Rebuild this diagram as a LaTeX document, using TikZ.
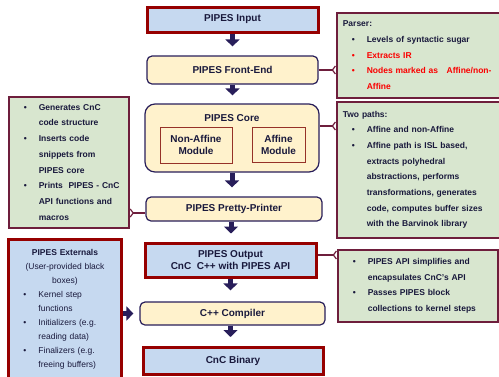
\documentclass[tikz,border=0pt]{standalone}
\usepackage{fontspec}
\setmainfont{Liberation Sans}
\usetikzlibrary{arrows.meta}

\definecolor{pipesblue}{RGB}{198,217,240}
\definecolor{pipescream}{RGB}{255,242,204}
\definecolor{pipesgreen}{RGB}{216,230,207}
\definecolor{pipesred}{RGB}{150,0,0}
\definecolor{pipesnavy}{RGB}{40,30,90}
\definecolor{notered}{RGB}{110,30,60}
\definecolor{modred}{RGB}{150,50,40}
\definecolor{pipestext}{RGB}{25,25,60}
\definecolor{pipesalert}{RGB}{250,0,0}

\newcommand{\bitem}[1]{\hspace*{9pt}\makebox[15pt][l]{\textbullet}\mbox{#1}}
\newcommand{\bcont}[1]{\hspace*{24pt}\mbox{#1}}

\tikzset{every picture/.style={line width=0.75pt}}

\begin{document}
\begin{tikzpicture}[x=1pt,y=1pt,yscale=-1,xscale=1,
  stage/.style={draw=pipesnavy,line width=1.2pt,fill=pipescream,rounded corners=5pt,inner sep=0pt,text=pipestext,font=\bfseries\fontsize{10}{12}\selectfont},
  io/.style={draw=pipesred,line width=3pt,fill=pipesblue,inner sep=0pt,text=pipestext,font=\bfseries\fontsize{10}{11.5}\selectfont},
  module/.style={draw=modred,line width=1pt,inner sep=0pt,align=center,text=pipestext,font=\bfseries\fontsize{10}{12}\selectfont},
  note/.style={draw=notered,line width=1.6pt,fill=pipesgreen,anchor=north west,align=left,inner xsep=6pt,inner ysep=0pt,text=pipestext,font=\bfseries\fontsize{8.5}{15.7}\selectfont},
  flow/.style={draw=pipesnavy,line width=5pt,-{Triangle[length=7pt,width=14pt]},shorten >=9pt},
  link/.style={draw=notered,line width=1.2pt,-{Straight Barb[reversed,length=3pt,width=8pt]}}]
\useasboundingbox (0,0) rectangle (499,376);

%Main flow
\node[io,minimum width=171pt,minimum height=25pt] (in) at (232.5,19.5) {PIPES Input};
\node[stage,minimum width=171pt,minimum height=28pt] (fe) at (232.5,70) {PIPES Front-End};
\node[stage,rounded corners=10pt,minimum width=174pt,minimum height=68pt] (core) at (232,138) {};
\node[text=pipestext,font=\bfseries\fontsize{10}{12}\selectfont,inner sep=0pt] (corelbl) at (232,118) {PIPES Core};
\node[module,minimum width=72pt,minimum height=36pt] (nonaff) at (196,145) {Non-Affine\\Module};
\node[module,minimum width=53pt,minimum height=35pt] (aff) at (278.5,144.5) {Affine\\Module};
\node[stage,minimum width=176pt,minimum height=24pt] (pp) at (234,209) {PIPES Pretty-Printer};
\node[io,align=center,minimum width=171pt,minimum height=34pt] (out) at (230.5,260) {PIPES Output\\CnC\ \ C++ with PIPES API};
\node[stage,minimum width=185pt,minimum height=23pt] (cc) at (232.5,313.5) {C++ Compiler};
\node[io,minimum width=180pt,minimum height=27pt] (bin) at (233,361) {CnC Binary};

%Notes
\node[note,text width=152pt,minimum height=85pt] (parser) at (336,12) {Parser:\\
\bitem{Levels of syntactic sugar}\\
{\color{pipesalert}\bitem{Extracts IR}}\\
{\color{pipesalert}\bitem{Nodes marked as\ \ \ Affine/non-}}\\
{\color{pipesalert}\bcont{Affine}}};
\node[note,text width=152pt,minimum height=136pt] (paths) at (336,101) {Two paths:\\
\bitem{Affine and non-Affine}\\
\bitem{Affine path is ISL based,}\\
\bcont{extracts polyhedral}\\
\bcont{abstractions, performs}\\
\bcont{transformations, generates}\\
\bcont{code, computes buffer sizes}\\
\bcont{with the Barvinok library}};
\node[note,text width=148pt,minimum height=72pt] (api) at (337,249) {\bitem{PIPES API simplifies and}\\
\bcont{encapsulates CnC's API}\\
\bitem{Passes PIPES block}\\
\bcont{collections to kernel steps}};
\node[note,text width=108pt,minimum height=131pt] (tasks) at (8,96) {\bitem{Generates CnC}\\
\bcont{code structure}\\
\bitem{Inserts code}\\
\bcont{snippets from}\\
\bcont{PIPES core}\\
\bitem{Prints\ \ PIPES - CnC}\\
\bcont{API functions and}\\
\bcont{macros}};
\node[io,anchor=north west,align=center,text width=101pt,inner xsep=6pt,minimum height=140pt,font=\fontsize{8.5}{14}\selectfont] (ext) at (7,238) {\textbf{PIPES Externals}\\
(User-provided black\\
boxes)\\
\makebox[101pt][l]{\bitem{Kernel step}}\\
\makebox[101pt][l]{\bcont{functions}}\\
\makebox[101pt][l]{\bitem{Initializers (e.g.}}\\
\makebox[101pt][l]{\bcont{reading data)}}\\
\makebox[101pt][l]{\bitem{Finalizers (e.g.}}\\
\makebox[101pt][l]{\bcont{freeing buffers)}}};

%Arrows
\draw[flow] (in.south) -- (in.south |- fe.north);
\draw[flow,shorten >=8pt] (fe.south) -- (fe.south |- core.north);
\draw[flow] (core.south) -- (core.south |- pp.north);
\draw[flow,shorten >=8pt] ([xshift=-3pt]pp.south) -- ([xshift=-3pt]pp.south |- out.north);
\draw[flow,shorten >=11pt] (out.south) -- (out.south |- cc.north);
\draw[flow] ([xshift=-2pt]cc.south) -- ([xshift=-2pt]cc.south |- bin.north);
\draw[flow,shorten >=6pt] (cc.west -| ext.east) -- (cc.west);

%Links to notes
\draw[link] (fe.east) -- (fe.east -| parser.west);
\draw[link] ([yshift=-12pt]core.east) -- ([yshift=-12pt]core.east -| paths.west);
\draw[link] ([yshift=-5pt]out.east) -- ([yshift=-5pt]out.east -| api.west);
\draw[link] ([yshift=4pt]pp.west) -- ([yshift=4pt]pp.west -| tasks.east);

\end{tikzpicture}
\end{document}
